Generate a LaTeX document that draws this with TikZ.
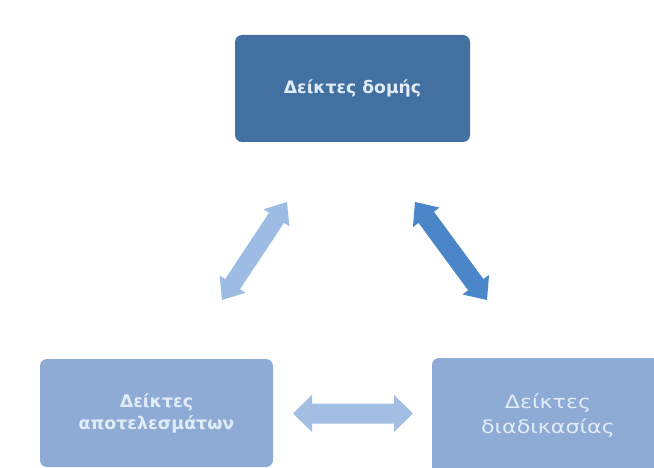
\documentclass[tikz,border=0pt]{standalone}
\usepackage{fontspec}
\setmainfont{DejaVu Sans}
\newfontfamily\boldlabel{DejaVu Sans Bold}
\newfontfamily\widelabel[FakeStretch=1.2]{DejaVu Sans}
\usetikzlibrary{calc}

\definecolor{boxdark}{RGB}{66,113,161}
\definecolor{boxlight}{RGB}{141,171,212}
\definecolor{boxtext}{RGB}{226,236,248}
\definecolor{arrowlight}{RGB}{157,188,228}
\definecolor{arrowdark}{RGB}{74,134,200}
\definecolor{arrowpale}{RGB}{162,190,226}

% Block double arrow between two named points:
% #1 style, #2 from, #3 to, #4 shaft half width, #5 head half width, #6 head length
\newcommand{\dblarrow}[6]{%
  \coordinate (da-a) at ($(#2)!#6!(#3)$);
  \coordinate (da-b) at ($(#3)!#6!(#2)$);
  \fill[#1] (#2) -- ($(da-a)!#5!90:(#3)$) -- ($(da-a)!#4!90:(#3)$)
    -- ($(da-b)!#4!-90:(#2)$) -- ($(da-b)!#5!-90:(#2)$) -- (#3)
    -- ($(da-b)!#5!90:(#2)$) -- ($(da-b)!#4!90:(#2)$)
    -- ($(da-a)!#4!-90:(#3)$) -- ($(da-a)!#5!-90:(#3)$) -- cycle;
}

\tikzset{
  panel/.style={rounded corners=7pt, inner sep=0pt, align=center,
    text=boxtext},
}

\begin{document}
\begin{tikzpicture}[x=1pt,y=-1pt]
  \useasboundingbox (0,0) rectangle (654,468);
  \clip (0,0) rectangle (654,468);
  \fill[white] (0,0) rectangle (654,468);

  % indicator boxes
  \node[panel, fill=boxdark, minimum width=235pt, minimum height=107pt,
        font=\boldlabel\fontsize{17.2}{20}\selectfont] (struct) at (352.5,88.5)
        {Δείκτες δομής};
  \node[panel, fill=boxlight, minimum width=233pt, minimum height=108pt,
        font=\boldlabel\fontsize{17.4}{22}\selectfont] (result) at (156.5,413)
        {Δείκτες\\αποτελεσμάτων};
  \node[panel, fill=boxlight, minimum width=232pt, minimum height=116pt,
        font=\widelabel\fontsize{18.5}{25}\selectfont] (process) at (548,416)
        {Δείκτες\\διαδικασίας};

  % arrow end points
  \coordinate (l-a) at (222,300);
  \coordinate (l-b) at (287,202);
  \coordinate (r-a) at (415,202);
  \coordinate (r-b) at (487,300);
  \coordinate (h-a) at (293,413.5);
  \coordinate (h-b) at (413,413.5);

  % two-way links between the boxes
  \dblarrow{arrowlight}{l-a}{l-b}{9pt}{15.5pt}{19pt}
  \dblarrow{arrowdark}{r-a}{r-b}{9.5pt}{16.5pt}{19pt}
  \dblarrow{arrowpale}{h-a}{h-b}{10pt}{18.5pt}{19pt}
\end{tikzpicture}
\end{document}
